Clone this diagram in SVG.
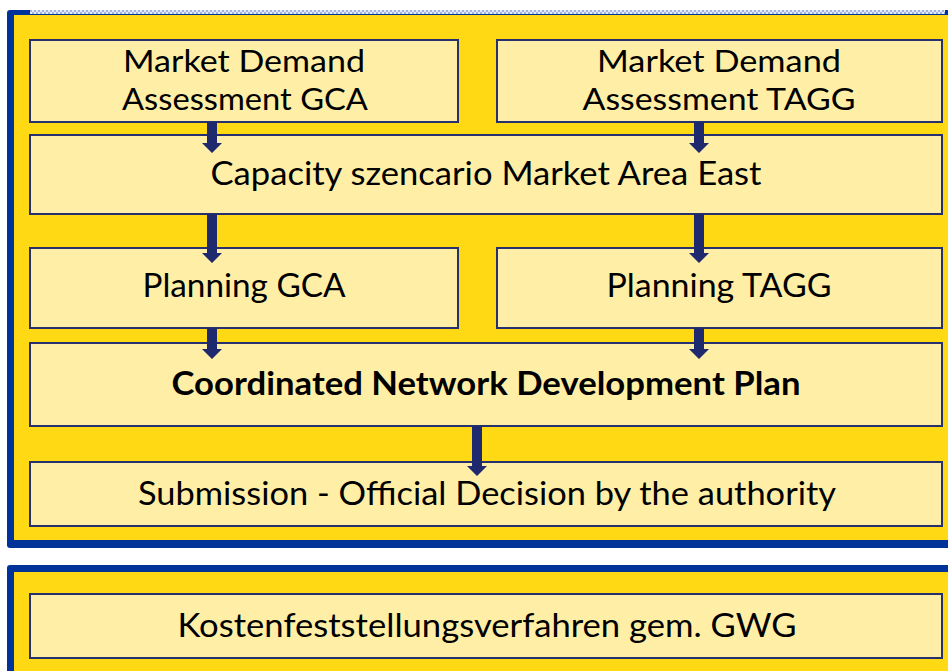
<svg xmlns="http://www.w3.org/2000/svg" width="948" height="671" viewBox="0 0 948 671">
<style>
.panel{fill:#003399}
.inner{fill:#FFD914}
.box{fill:#FFEFA6;stroke:#26306E;stroke-width:2}
.t{font-family:Lato,"Open Sans","Liberation Sans",sans-serif;font-size:32px;fill:#000;text-anchor:middle}
.s{font-size:31.5px}
.b{font-weight:700}
.arr{fill:#1F2A6E}
</style>
<defs>
<pattern id="dots" width="4" height="4" patternUnits="userSpaceOnUse">
<rect width="4" height="4" fill="#E4EAF6"/>
<rect width="2" height="2" fill="#9FB2DC"/>
<rect x="2" y="2" width="2" height="2" fill="#9FB2DC"/>
</pattern>
</defs>
<rect width="948" height="671" fill="#FFFFFF"/>
<g id="panel1">
<rect class="panel" x="7" y="10" width="960" height="538" rx="3"/>
<rect class="inner" x="14" y="15" width="950" height="525"/>
<rect x="30" y="10" width="915" height="4" fill="url(#dots)"/>
</g>
<g id="panel2">
<rect class="panel" x="7" y="565" width="960" height="120" rx="3"/>
<rect class="inner" x="14" y="572" width="950" height="110"/>
</g>
<g id="mda-gca">
<rect class="box" x="30" y="40" width="428" height="82"/>
<text class="t s" x="244" y="72" textLength="242" lengthAdjust="spacingAndGlyphs">Market Demand</text>
<text class="t s" x="245" y="110" textLength="246" lengthAdjust="spacingAndGlyphs">Assessment GCA</text>
</g>
<g id="mda-tagg">
<rect class="box" x="497" y="40" width="445" height="82"/>
<text class="t s" x="719" y="72" textLength="244" lengthAdjust="spacingAndGlyphs">Market Demand</text>
<text class="t s" x="719" y="110" textLength="273" lengthAdjust="spacingAndGlyphs">Assessment TAGG</text>
</g>
<g id="capacity">
<rect class="box" x="30" y="135" width="912" height="79"/>
<text class="t" x="486" y="185" textLength="551" lengthAdjust="spacingAndGlyphs">Capacity szencario Market Area East</text>
</g>
<g id="planning-gca">
<rect class="box" x="30" y="248" width="428" height="80"/>
<text class="t" x="244" y="297" textLength="203" lengthAdjust="spacingAndGlyphs">Planning GCA</text>
</g>
<g id="planning-tagg">
<rect class="box" x="497" y="248" width="445" height="80"/>
<text class="t" x="719" y="297" textLength="225" lengthAdjust="spacingAndGlyphs">Planning TAGG</text>
</g>
<g id="cndp">
<rect class="box" x="30" y="343" width="912" height="83"/>
<text class="t b" x="486" y="395" textLength="629" lengthAdjust="spacingAndGlyphs">Coordinated Network Development Plan</text>
</g>
<g id="submission">
<rect class="box" x="30" y="462" width="912" height="64"/>
<text class="t" x="487" y="505" textLength="698" lengthAdjust="spacingAndGlyphs">Submission - Official Decision by the authority</text>
</g>
<g id="kosten">
<rect class="box" x="30" y="594" width="912" height="64"/>
<text class="t" x="487" y="637" textLength="619" lengthAdjust="spacingAndGlyphs">Kostenfeststellungsverfahren gem. GWG</text>
</g>
<g id="connectors">
<polygon class="arr" points="207,122 217,122 217,143 222,143 212,153 202,143 207,143"/>
<polygon class="arr" points="694,122 704,122 704,143 709,143 699,153 689,143 694,143"/>
<polygon class="arr" points="207,214 217,214 217,253 222,253 212,263 202,253 207,253"/>
<polygon class="arr" points="694,214 704,214 704,253 709,253 699,263 689,253 694,253"/>
<polygon class="arr" points="207,328 217,328 217,349 222,349 212,359 202,349 207,349"/>
<polygon class="arr" points="694,328 704,328 704,349 709,349 699,359 689,349 694,349"/>
<polygon class="arr" points="472,426 482,426 482,466 487,466 477,476 467,466 472,466"/>
</g>
</svg>
